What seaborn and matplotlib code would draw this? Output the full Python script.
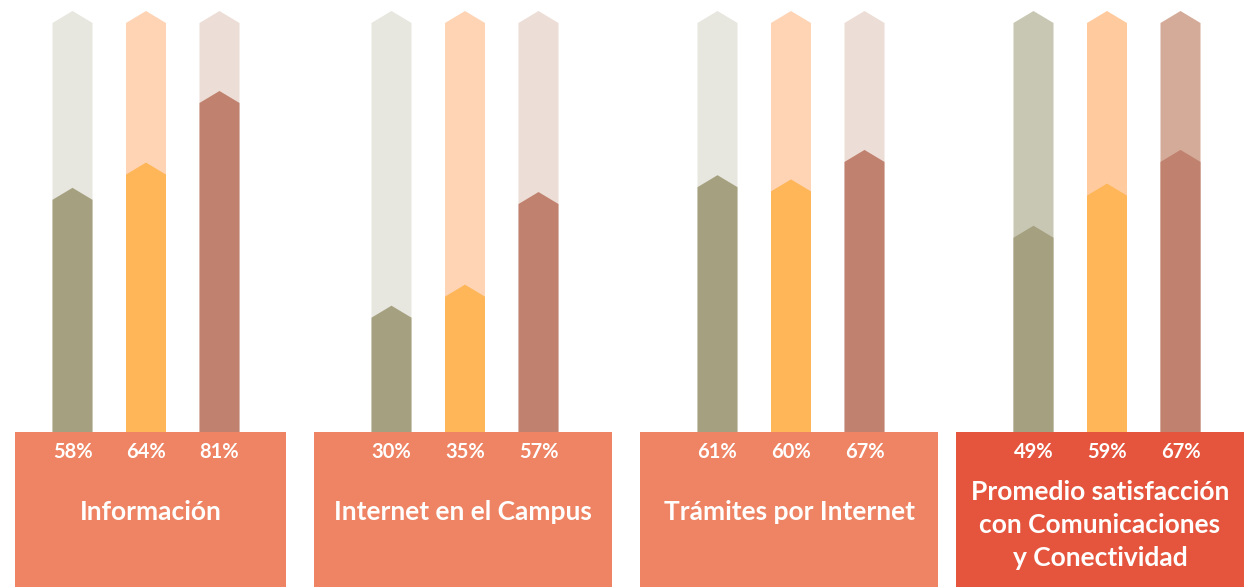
import pandas as pd
import matplotlib
matplotlib.use("Agg")
import matplotlib.pyplot as plt
import matplotlib.transforms as mtransforms
from matplotlib.patches import Polygon
import seaborn as sns

# Data
groups = ["Información", "Internet en el Campus", "Trámites por Internet",
          "Promedio satisfacción\ncon Comunicaciones\ny Conectividad"]
series = ["Serie 1", "Serie 2", "Serie 3"]
informacion = [58, 64, 81]
internet = [30, 35, 57]
tramites = [61, 60, 67]
promedio = [49, 59, 67]
full_scale = [100, 100, 100]

group_values = [informacion, internet, tramites, promedio]

# Colours
bar_colors = ["#A5A180", "#FFB658", "#C0826E"]
track_colors = ["#E7E6DF", "#FED4B4", "#EDDDD7"]
track_colors_avg = ["#C8C7B3", "#FFCA9D", "#D4AA98"]
box_color = "#EE8463"
box_color_avg = "#E5553D"

sns.set_theme(style="white")
plt.rcParams['font.family'] = ['Lato', 'DejaVu Sans']

W, H = 1244, 587
fig = plt.figure(figsize=(W / 100, H / 100), dpi=100)

# layout in pixels
bar_centers = [146, 465, 791, 1107]
boxes = [(15, 286), (314, 612), (640, 938), (956, 1244)]
base_y, top_y = 432, 11
unit = 73.5
tip_px = 12


def pencil(ax, tip):
    # turn each seaborn bar into a bar with a pointed top
    for p in list(ax.patches):
        x0, w, h = p.get_x(), p.get_width(), p.get_height()
        fc = p.get_facecolor()
        p.set_visible(False)
        ax.add_patch(Polygon([(x0, 0), (x0, h - tip), (x0 + w / 2, h),
                              (x0 + w, h - tip), (x0 + w, 0)],
                             closed=True, facecolor=fc, edgecolor="none",
                             zorder=2 if h < 100 else 1))


for i, (name, vals) in enumerate(zip(groups, group_values)):
    is_avg = i == len(groups) - 1

    # box under the bars
    bx0, bx1 = boxes[i]
    bax = fig.add_axes([bx0 / W, 0, (bx1 - bx0) / W, (H - base_y) / H])
    bax.set_facecolor(box_color_avg if is_avg else box_color)
    bax.set_xticks([])
    bax.set_yticks([])
    for s in bax.spines.values():
        s.set_visible(False)
    if is_avg:
        bax.text(0.5, 0.40, name, ha="center", va="center", color="white",
                 fontsize=19, fontweight="bold", linespacing=1.45)
    else:
        bax.text(0.5, 0.484, name, ha="center", va="center", color="white",
                 fontsize=19, fontweight="bold")

    # bars
    c = bar_centers[i]
    ax = fig.add_axes([(c - 1.5 * unit) / W, (H - base_y) / H,
                       3 * unit / W, (base_y - top_y) / H])
    ax.patch.set_alpha(0)
    df = pd.DataFrame({"serie": series, "valor": vals, "full": full_scale})
    sns.barplot(data=df, x="serie", y="full", hue="serie",
                palette=track_colors_avg if is_avg else track_colors,
                saturation=1, width=40 / unit, legend=False, ax=ax)
    sns.barplot(data=df, x="serie", y="valor", hue="serie",
                palette=bar_colors, saturation=1, width=40 / unit,
                legend=False, ax=ax)
    ax.set_ylim(0, 100)
    ax.set_xlim(-0.5, 2.5)
    tip = tip_px * 100 / (base_y - top_y)
    pencil(ax, tip)
    ax.set_axis_off()

    trans = mtransforms.blended_transform_factory(ax.transData, ax.transAxes)
    for j, v in enumerate(vals):
        ax.text(j, -20 / (base_y - top_y), f"{v}%", transform=trans,
                ha="center", va="center", color="white", fontsize=14.5,
                fontweight="bold", clip_on=False)

fig.savefig("out.png", dpi=100)
